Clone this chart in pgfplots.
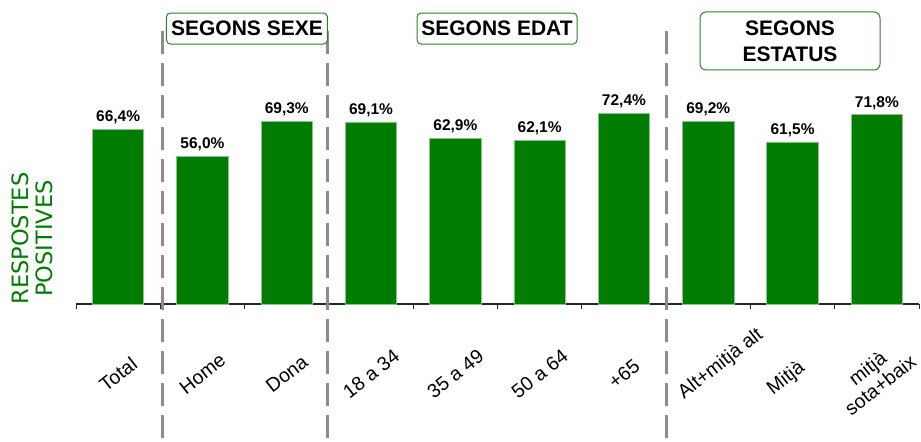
\documentclass[border=0pt]{standalone}
\usepackage{pgfplots}
\pgfplotsset{compat=1.18}
\usepackage{fontspec}
\setmainfont{Liberation Sans}
\newfontfamily\dejavu{DejaVu Sans}
\definecolor{barg}{RGB}{0,125,0}
\definecolor{baredge}{RGB}{140,195,140}
\definecolor{dashg}{RGB}{140,140,140}
\definecolor{boxg}{RGB}{40,130,40}
\begin{document}
\begin{tikzpicture}
\begin{axis}[
 x=84.3bp, y=2.635bp,
 xmin=-0.5, xmax=9.5, ymin=0, ymax=100,
 clip=false,
 axis x line*=bottom, axis y line=none,
 xtick={0,...,9},
 xticklabels={Total,Home,Dona,18 a 34,35 a 49,50 a 64,+65,\hspace*{32bp}Alt+mitjà alt,Mitjà\hspace*{16bp},{mitjà\hspace*{8bp}\\sota+baix\hspace*{8bp}}},
 major tick length=0pt,
 minor xtick={-0.5,0.5,...,9.5},
 minor tick length=5bp,
 tick align=outside,
 every tick/.style={black!85, line width=1bp},
 x axis line style={line width=1.2bp, draw=black!85},
 xticklabel style={font=\fontsize{19.5bp}{21bp}\selectfont, align=center, anchor=center, yshift=-70bp, rotate=38},
 ybar, bar width=0.61,
 /pgf/number format/assume math mode=true,
 nodes near coords={\pgfmathprintnumber[fixed,fixed zerofill,precision=1,use comma,assume math mode=true]{\pgfplotspointmeta}\%},
 every node near coord/.append style={font=\bfseries\fontsize{15.5bp}{18bp}\selectfont, inner sep=2bp, yshift=3bp, black},
]
\addplot[fill=barg, draw=baredge, line width=0.8bp] coordinates {
 (0,66.4) (1,56.0) (2,69.3) (3,69.1) (4,62.9) (5,62.1) (6,72.4) (7,69.2) (8,61.5) (9,71.8)};

\draw[dashg, line width=3bp, dash pattern=on 23bp off 9bp] (axis cs:0.53,103.5) -- (axis cs:0.53,-52.4);
\draw[dashg, line width=3bp, dash pattern=on 23bp off 9bp] (axis cs:2.48,103.5) -- (axis cs:2.48,-52.4);
\draw[dashg, line width=3bp, dash pattern=on 23bp off 9bp] (axis cs:6.51,103.5) -- (axis cs:6.51,-52.4);

\node[draw=boxg, fill=white, rounded corners=4bp, line width=1bp, minimum width=161bp, minimum height=31bp, inner sep=0pt, font=\bfseries\fontsize{21bp}{25bp}\selectfont] at (axis cs:1.528,104.55) {SEGONS SEXE};
\node[draw=boxg, fill=white, rounded corners=4bp, line width=1bp, minimum width=160bp, minimum height=31bp, inner sep=0pt, font=\bfseries\fontsize{21bp}{25bp}\selectfont] at (axis cs:4.494,104.55) {SEGONS EDAT};
\node[draw=boxg, fill=white, rounded corners=6bp, line width=1bp, minimum width=180bp, minimum height=58bp, inner sep=0pt, align=center, font=\bfseries\fontsize{21bp}{26bp}\selectfont] at (axis cs:7.97,99.81) {SEGONS\\ESTATUS};

\node[rotate=90, align=center, text=barg, font=\dejavu\fontsize{22.5bp}{24bp}\selectfont] at (axis cs:-1.02,24.8) {RESPOSTES\\POSITIVES};

\coordinate (bl) at (axis cs:-1.4016,-52.37);
\coordinate (tr) at (axis cs:9.5237,115.37);
\end{axis}
\pgfresetboundingbox
\path (bl) rectangle (tr);
\end{tikzpicture}
\end{document}
